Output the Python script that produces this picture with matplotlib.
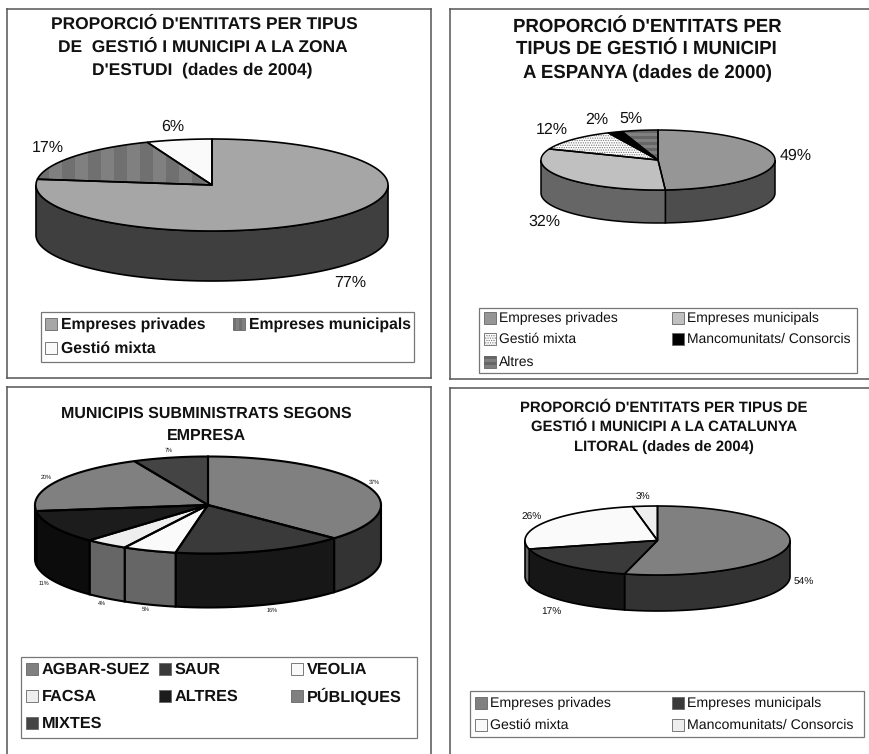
import numpy as np
import matplotlib
matplotlib.use('Agg')
import matplotlib.pyplot as plt
from matplotlib.patches import Polygon, Rectangle

plt.rcParams['font.family'] = ['Liberation Sans', 'DejaVu Sans']
plt.rcParams['hatch.linewidth'] = 0.6
plt.rcParams['text.hinting'] = 'none'

# values as labelled on the four pies
zona_names = ['Empreses privades', 'Empreses municipals', 'Gestió mixta']
zona_values = [77, 17, 6]
espanya_names = ['Empreses privades', 'Empreses municipals', 'Gestió mixta',
                 'Mancomunitats/ Consorcis', 'Altres']
espanya_values = [49, 32, 12, 2, 5]
empresa_names = ['AGBAR-SUEZ', 'SAUR', 'VEOLIA', 'FACSA', 'ALTRES', 'PÚBLIQUES', 'MIXTES']
empresa_values = [37, 16, 5, 4, 11, 20, 7]
litoral_names = ['Empreses privades', 'Empreses municipals', 'Gestió mixta',
                 'Mancomunitats/ Consorcis']
litoral_values = [54, 17, 26, 3]

fig = plt.figure(figsize=(8.7, 7.54), dpi=100)
ax = fig.add_axes([0, 0, 1, 1])
ax.set_xlim(0, 870)
ax.set_ylim(754, 0)
ax.axis('off')


def arc(cx, cy, rx, ry, a0, a1):
    # angles in degrees, clockwise from 12 o'clock
    t = np.radians(np.linspace(a0, a1, max(int(abs(a1 - a0)), 2) + 1))
    return np.column_stack([cx + rx * np.sin(t), cy - ry * np.cos(t)])


def fill_pattern(poly, pattern, bounds):
    x0, y0, x1, y1 = bounds
    if pattern == 'v':
        step = min(26, (x1 - x0) / 2)
        for x in np.arange(x0, x1, step):
            r = Rectangle((x, y0), step / 2, y1 - y0, fc='#707070', ec='none', zorder=poly.get_zorder())
            ax.add_patch(r)
            r.set_clip_path(poly)
    elif pattern == 'h':
        for y in np.arange(y0, y1, 6):
            r = Rectangle((x0, y), x1 - x0, 3, fc='#666666', ec='none', zorder=poly.get_zorder())
            ax.add_patch(r)
            r.set_clip_path(poly)
    elif pattern == 'd':
        h = Polygon(poly.get_xy(), fc='none', ec='#777777', lw=0, hatch='.......', zorder=poly.get_zorder())
        ax.add_patch(h)


def pie3d(values, cx, cy, rx, ry, depth, tops, sides, patterns, offsets, lsize, lw):
    values = np.array(values, dtype=float)
    edges = np.concatenate([[0], np.cumsum(values) / values.sum() * 360])
    for i in range(len(values)):
        a0, a1 = max(edges[i], 90), min(edges[i + 1], 270)
        if a1 > a0:
            upper = arc(cx, cy, rx, ry, a0, a1)
            lower = upper + [0, depth]
            ax.add_patch(Polygon(np.vstack([upper, lower[::-1]]), fc=sides[i], ec='black', lw=lw, zorder=2))
    for i in range(len(values)):
        pts = np.vstack([[[cx, cy]], arc(cx, cy, rx, ry, edges[i], edges[i + 1])])
        poly = Polygon(pts, fc=tops[i], ec='none', zorder=3)
        ax.add_patch(poly)
        if patterns[i]:
            fill_pattern(poly, patterns[i], (cx - rx, cy - ry, cx + rx, cy + ry))
        ax.add_patch(Polygon(pts, fc='none', ec='black', lw=lw, zorder=4))
    for i, v in enumerate(values):
        mid = (edges[i] + edges[i + 1]) / 2
        p = arc(cx, cy, rx, ry, mid, mid + 0.01)[0]
        y = p[1] + (depth if 90 < mid < 270 else 0)
        ax.text(p[0] + offsets[i][0], y + offsets[i][1] + 1, f'{int(v)}%', fontsize=lsize,
                ha='center', va='center', color='#111111', zorder=5)


def legend(names, fills, patterns, box, col_x, row_y, size, weight, swatch):
    x0, y0, x1, y1 = box
    ax.add_patch(Rectangle((x0, y0), x1 - x0, y1 - y0, fc='white', ec='#777777', lw=0.9, zorder=1))
    n = len(col_x)
    gap = 4 if weight == 'bold' else 3
    for i, name in enumerate(names):
        x = col_x[i % n]
        y = row_y[i // n]
        corners = [(x, y - swatch / 2), (x + swatch, y - swatch / 2),
                   (x + swatch, y + swatch / 2), (x, y + swatch / 2)]
        s = Polygon(corners, fc=fills[i], ec='#666666', lw=0.6, zorder=3)
        ax.add_patch(s)
        if patterns[i]:
            fill_pattern(s, patterns[i], (x, y - swatch / 2, x + swatch, y + swatch / 2))
        ax.text(x + swatch + gap, y + 0.5, name, fontsize=size, fontweight=weight, va='center', ha='left',
                color='#111111', zorder=4)


def title(lines, xs, ys, size):
    for line, x, y in zip(lines, xs, ys):
        ax.text(x, y + 1, line, fontsize=size, fontweight='bold', ha='center', va='center', color='#111111')


def frame(x0, y0, x1, y1, closed_bottom=True, closed_right=True):
    ax.plot([x0, x0], [y1, y0], color='#555555', lw=1.1, zorder=0.5)
    ax.plot([x0, x1], [y0, y0], color='#555555', lw=1.1, zorder=0.5)
    if closed_bottom:
        ax.plot([x0, x1], [y1, y1], color='#555555', lw=1.1, zorder=0.5)
    if closed_right:
        ax.plot([x1, x1], [y0, y1], color='#555555', lw=1.1, zorder=0.5)


# top left
frame(7, 9, 431, 378)
title(["PROPORCIÓ D'ENTITATS PER TIPUS", 'DE  GESTIÓ I MUNICIPI A LA ZONA', "D'ESTUDI  (dades de 2004)"],
      [204, 203, 202], [23, 46, 69], 12.5)
tops = ['#a6a6a6', '#808080', '#fafafa']
sides = ['#3f3f3f', '#5a5a5a', '#666666']
pats = [None, 'v', None]
pie3d(zona_values, 212, 185, 176, 46, 50, tops, sides, pats,
      [(22, 12), (-25, -10), (-6, -14)], 11.5, 1.2)
legend(zona_names, tops, pats, (41, 312, 414, 362), [45, 233], [324, 348], 11.3, 'bold', 12)

# top right
frame(450, 9, 870, 379, closed_right=False)
title(["PROPORCIÓ D'ENTITATS PER", 'TIPUS DE GESTIÓ I MUNICIPI', 'A ESPANYA (dades de 2000)'],
      [647, 646, 647], [27, 49, 72], 13.4)
tops = ['#969696', '#c0c0c0', '#ffffff', '#000000', '#808080']
sides = ['#4d4d4d', '#666666', '#777777', '#000000', '#555555']
pats = [None, None, 'd', None, 'h']
pie3d(espanya_values, 658, 160, 117, 30, 33, tops, sides, pats,
      [(21, -4), (-19, 10), (-21, -11), (-18, -13), (-9, -13)], 11.5, 1.1)
legend(espanya_names, tops, pats, (479, 308, 857, 373), [484, 672], [318, 339, 362], 10, 'normal', 12)

# bottom left
frame(7, 387, 431, 754, closed_bottom=False)
title(['MUNICIPIS SUBMINISTRATS SEGONS', 'EMPRESA'], [206, 206], [413, 435], 11.5)
tops = ['#808080', '#3a3a3a', '#fafafa', '#eeeeee', '#1c1c1c', '#808080', '#444444']
sides = ['#333333', '#171717', '#666666', '#666666', '#0c0c0c', '#333333', '#1c1c1c']
pats = [None] * 7
pie3d(empresa_values, 208, 505, 173, 48.5, 54, tops, sides, pats,
      [(8, -4), (11, 4), (-4, 4), (-4, 4), (-10, 1), (-10, -5), (-2, -8)], 4, 1.5)
legend(empresa_names, tops, pats, (21, 657, 417, 738), [26, 159, 291], [669, 696, 723], 11.7, 'bold', 12)

# bottom right
frame(450, 388, 870, 754, closed_bottom=False, closed_right=False)
title(["PROPORCIÓ D'ENTITATS PER TIPUS DE", 'GESTIÓ I MUNICIPI A LA CATALUNYA', 'LITORAL (dades de 2004)'],
      [664, 664, 664], [407, 426, 446], 10.75)
tops = ['#808080', '#3a3a3a', '#fafafa', '#eeeeee']
sides = ['#333333', '#161616', '#666666', '#666666']
pats = [None] * 4
pie3d(litoral_values, 657.5, 540.5, 132.5, 34.5, 36, tops, sides, pats,
      [(15, 0), (-12, 10), (-14, -6), (-2, -10)], 7.3, 1.2)
legend(litoral_names, tops, pats, (470, 691, 864, 737), [475, 672], [703, 725], 10.2, 'normal', 12)

fig.savefig('out.png', dpi=100, facecolor='white')
